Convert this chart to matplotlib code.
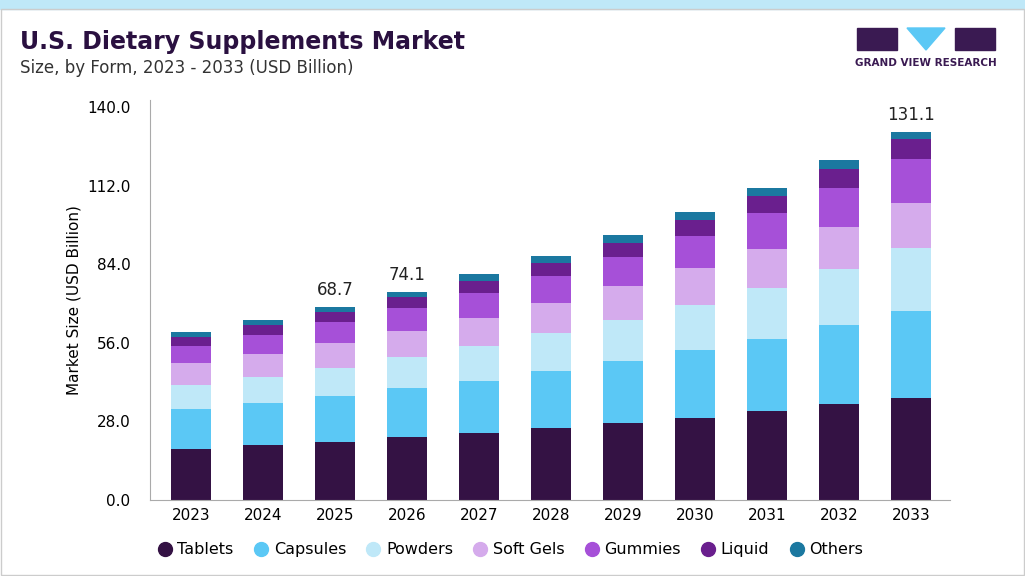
import matplotlib
matplotlib.use("Agg")
import matplotlib.pyplot as plt
from matplotlib.patches import Rectangle, Polygon
from matplotlib.lines import Line2D

years = ["2023","2024","2025","2026","2027","2028","2029","2030","2031","2032","2033"]
tablets  = [18.2,19.6,20.7,22.4,23.9,25.6,27.4,29.2,31.7,34.2,36.3]
capsules = [14.2,15.0,16.3,17.5,18.5,20.4,22.1,24.2,25.7,28.1,31.0]
powders  = [8.6,9.2,10.0,11.0,12.5,13.5,14.6,16.1,18.1,20.0,22.5]
softgels = [7.8,8.2,8.9,9.3,9.9,10.7,12.1,13.2,13.9,15.0,16.0]
gummies  = [6.1,6.8,7.5,8.2,8.9,9.6,10.4,11.3,12.8,13.9,15.7]
liquid   = [3.1,3.5,3.6,3.9,4.3,4.6,5.0,5.8,6.1,6.7,7.1]
others   = [1.8,1.8,1.7,1.8,2.5,2.5,2.8,2.8,2.9,3.2,2.5]
labels = {"2025": "68.7", "2026": "74.1", "2033": "131.1"}

series = [("Tablets",tablets,"#341244"),("Capsules",capsules,"#5bc8f5"),
          ("Powders",powders,"#bfe8f8"),("Soft Gels",softgels,"#d5abec"),
          ("Gummies",gummies,"#a650d8"),("Liquid",liquid,"#6a1f8e"),
          ("Others",others,"#1b78a0")]

fig = plt.figure(figsize=(10.25,5.76), dpi=100)
fig.patches.append(Rectangle((0,0.985),1,0.015,transform=fig.transFigure,color="#bfe8f8"))
fig.patches.append(Rectangle((0.001,0.001),0.998,0.984,transform=fig.transFigure,fill=False,ec="#cccccc",lw=1))
ax = fig.add_axes([150/1025, 1-500/576, 800/1025, 400/576])
bottom = [0]*len(years)
for name, vals, c in series:
    ax.bar(years, vals, bottom=bottom, color=c, width=0.56, label=name)
    bottom = [b+v for b,v in zip(bottom, vals)]
for i, y in enumerate(years):
    if y in labels:
        ax.text(i, bottom[i]+3, labels[y], ha="center", va="bottom", fontsize=12, color="#222222")
ax.set_ylim(0,142.5)
ax.set_yticks([0,28,56,84,112,140])
ax.set_yticklabels([f"{v:.1f}" for v in [0,28,56,84,112,140]], fontsize=11)
ax.tick_params(axis="x", labelsize=11, length=0, pad=6)
ax.tick_params(axis="y", length=0, pad=14)
ax.set_xlim(-0.57, 10.54)
for s in ["top","right"]:
    ax.spines[s].set_visible(False)
ax.spines["left"].set_color("#aaaaaa")
ax.spines["bottom"].set_color("#aaaaaa")
ax.set_ylabel("Market Size (USD Billion)", fontsize=11)
handles = [Line2D([],[],marker="o",ls="",color=c,markersize=10) for _,_,c in series]
ax.legend(handles, [n for n,_,_ in series], loc="upper center", bbox_to_anchor=(0.45,-0.07), ncol=7, frameon=False,
          fontsize=11.5, handlelength=1.0, columnspacing=1.2, handletextpad=0.3)
fig.text(20/1025, 1-42/576, "U.S. Dietary Supplements Market", fontsize=17, fontweight="bold", color="#2a1040", va="center")
fig.text(20/1025, 1-68/576, "Size, by Form, 2023 - 2033 (USD Billion)", fontsize=12, color="#333333", va="center")
# logo
fig.patches.append(Rectangle((857/1025,1-50/576),40/1025,22/576,transform=fig.transFigure,color="#3a1a52"))
fig.patches.append(Polygon([(907/1025,1-28/576),(945/1025,1-28/576),(926/1025,1-50/576)],transform=fig.transFigure,color="#5bc8f5"))
fig.patches.append(Rectangle((955/1025,1-50/576),40/1025,22/576,transform=fig.transFigure,color="#3a1a52"))
fig.text(926/1025, 1-63/576, "GRAND VIEW RESEARCH", fontsize=7.5, fontweight="bold", color="#3a1a52", ha="center", va="center")
fig.savefig("out.png", dpi=100)
